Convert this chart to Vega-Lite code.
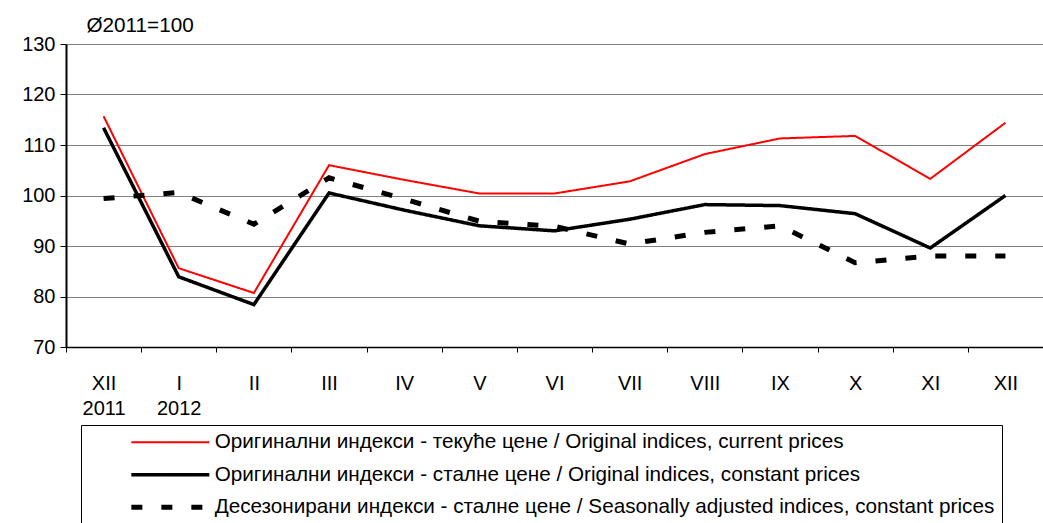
{
  "$schema": "https://vega.github.io/schema/vega-lite/v6.json",
  "width": 977,
  "height": 303,
  "autosize": "none",
  "padding": {"left": 66, "top": 44, "right": 0, "bottom": 176},
  "background": "white",
  "config": {
    "font": "Liberation Sans",
    "view": {"stroke": null},
    "legend": {
      "orient": "none",
      "legendX": 15,
      "legendY": 381,
      "padding": 7,
      "strokeColor": "black",
      "fillColor": "white",
      "symbolType": "M8.25,0H27.75",
      "symbolSize": 64,
      "labelFontSize": 20.7,
      "labelColor": "black",
      "labelLimit": 1200,
      "labelOffset": 106,
      "rowPadding": 10.5,
      "title": null
    }
  },
  "data": {
    "values": [
      {"m": "XII 2011", "s": "Оригинални индекси - текуће цене / Original indices, current prices", "v": 115.7},
      {"m": "I 2012", "s": "Оригинални индекси - текуће цене / Original indices, current prices", "v": 85.6},
      {"m": "II", "s": "Оригинални индекси - текуће цене / Original indices, current prices", "v": 80.7},
      {"m": "III", "s": "Оригинални индекси - текуће цене / Original indices, current prices", "v": 106.0},
      {"m": "IV", "s": "Оригинални индекси - текуће цене / Original indices, current prices", "v": 103.1},
      {"m": "V", "s": "Оригинални индекси - текуће цене / Original indices, current prices", "v": 100.4},
      {"m": "VI", "s": "Оригинални индекси - текуће цене / Original indices, current prices", "v": 100.4},
      {"m": "VII", "s": "Оригинални индекси - текуће цене / Original indices, current prices", "v": 102.8},
      {"m": "VIII", "s": "Оригинални индекси - текуће цене / Original indices, current prices", "v": 108.2},
      {"m": "IX", "s": "Оригинални индекси - текуће цене / Original indices, current prices", "v": 111.3},
      {"m": "X", "s": "Оригинални индекси - текуће цене / Original indices, current prices", "v": 111.8},
      {"m": "XI", "s": "Оригинални индекси - текуће цене / Original indices, current prices", "v": 103.3},
      {"m": "XII", "s": "Оригинални индекси - текуће цене / Original indices, current prices", "v": 114.4},
      {"m": "XII 2011", "s": "Оригинални индекси - сталне цене / Original indices, constant prices", "v": 113.4},
      {"m": "I 2012", "s": "Оригинални индекси - сталне цене / Original indices, constant prices", "v": 83.9},
      {"m": "II", "s": "Оригинални индекси - сталне цене / Original indices, constant prices", "v": 78.4},
      {"m": "III", "s": "Оригинални индекси - сталне цене / Original indices, constant prices", "v": 100.5},
      {"m": "IV", "s": "Оригинални индекси - сталне цене / Original indices, constant prices", "v": 97.1},
      {"m": "V", "s": "Оригинални индекси - сталне цене / Original indices, constant prices", "v": 94.0},
      {"m": "VI", "s": "Оригинални индекси - сталне цене / Original indices, constant prices", "v": 93.0},
      {"m": "VII", "s": "Оригинални индекси - сталне цене / Original indices, constant prices", "v": 95.3},
      {"m": "VIII", "s": "Оригинални индекси - сталне цене / Original indices, constant prices", "v": 98.2},
      {"m": "IX", "s": "Оригинални индекси - сталне цене / Original indices, constant prices", "v": 98.0},
      {"m": "X", "s": "Оригинални индекси - сталне цене / Original indices, constant prices", "v": 96.4},
      {"m": "XI", "s": "Оригинални индекси - сталне цене / Original indices, constant prices", "v": 89.6},
      {"m": "XII", "s": "Оригинални индекси - сталне цене / Original indices, constant prices", "v": 100.0},
      {"m": "XII 2011", "s": "Десезонирани индекси - сталне цене / Seasonally adjusted indices, constant prices", "v": 99.4},
      {"m": "I 2012", "s": "Десезонирани индекси - сталне цене / Seasonally adjusted indices, constant prices", "v": 100.6},
      {"m": "II", "s": "Десезонирани индекси - сталне цене / Seasonally adjusted indices, constant prices", "v": 94.3},
      {"m": "III", "s": "Десезонирани индекси - сталне цене / Seasonally adjusted indices, constant prices", "v": 103.5},
      {"m": "IV", "s": "Десезонирани индекси - сталне цене / Seasonally adjusted indices, constant prices", "v": 99.3},
      {"m": "V", "s": "Десезонирани индекси - сталне цене / Seasonally adjusted indices, constant prices", "v": 94.9},
      {"m": "VI", "s": "Десезонирани индекси - сталне цене / Seasonally adjusted indices, constant prices", "v": 93.9},
      {"m": "VII", "s": "Десезонирани индекси - сталне цене / Seasonally adjusted indices, constant prices", "v": 90.4},
      {"m": "VIII", "s": "Десезонирани индекси - сталне цене / Seasonally adjusted indices, constant prices", "v": 92.7},
      {"m": "IX", "s": "Десезонирани индекси - сталне цене / Seasonally adjusted indices, constant prices", "v": 94.0},
      {"m": "X", "s": "Десезонирани индекси - сталне цене / Seasonally adjusted indices, constant prices", "v": 86.7},
      {"m": "XI", "s": "Десезонирани индекси - сталне цене / Seasonally adjusted indices, constant prices", "v": 88.0},
      {"m": "XII", "s": "Десезонирани индекси - сталне цене / Seasonally adjusted indices, constant prices", "v": 88.0}
    ]
  },
  "mark": {"type": "line", "strokeCap": "butt", "strokeJoin": "miter"},
  "encoding": {
    "x": {
      "field": "m",
      "type": "ordinal",
      "sort": ["XII 2011", "I 2012", "II", "III", "IV", "V", "VI", "VII", "VIII", "IX", "X", "XI", "XII"],
      "bandPosition": 0.5,
      "scale": {"type": "band", "paddingInner": 0, "paddingOuter": 0},
      "axis": {
        "title": null,
        "labelAngle": 0,
        "labelExpr": "isValid(datum.value) ? split(datum.value, ' ') : ''",
        "labelFontSize": 20,
        "labelColor": "black",
        "labelLineHeight": 25,
        "labelPadding": 21,
        "tickBand": "extent",
        "tickSize": 5,
        "tickColor": "black",
        "domainColor": "black",
        "domainWidth": 1.5,
        "grid": false
      }
    },
    "y": {
      "field": "v",
      "type": "quantitative",
      "scale": {"domain": [70, 130], "nice": false, "zero": false},
      "axis": {
        "values": [70, 80, 90, 100, 110, 120, 130],
        "title": "Ø2011=100",
        "titleAngle": 0,
        "titleX": 20,
        "titleY": -19,
        "titleAlign": "left",
        "titleBaseline": "middle",
        "titleFontSize": 20.7,
        "titleFontWeight": "normal",
        "titleColor": "black",
        "labelFontSize": 20,
        "labelColor": "black",
        "labelPadding": 5,
        "tickSize": 6,
        "tickColor": "black",
        "domainColor": "black",
        "domainWidth": 2,
        "grid": true,
        "gridColor": "#808080",
        "gridWidth": 1
      }
    },
    "color": {
      "field": "s",
      "type": "nominal",
      "sort": null,
      "scale": {
        "domain": [
          "Оригинални индекси - текуће цене / Original indices, current prices",
          "Оригинални индекси - сталне цене / Original indices, constant prices",
          "Десезонирани индекси - сталне цене / Seasonally adjusted indices, constant prices"
        ],
        "range": ["#FF0000", "#000000", "#000000"]
      }
    },
    "strokeWidth": {
      "field": "s",
      "type": "nominal",
      "sort": null,
      "scale": {
        "domain": [
          "Оригинални индекси - текуће цене / Original indices, current prices",
          "Оригинални индекси - сталне цене / Original indices, constant prices",
          "Десезонирани индекси - сталне цене / Seasonally adjusted indices, constant prices"
        ],
        "range": [2, 5, 5]
      }
    },
    "strokeDash": {
      "field": "s",
      "type": "nominal",
      "sort": null,
      "scale": {
        "domain": [
          "Оригинални индекси - текуће цене / Original indices, current prices",
          "Оригинални индекси - сталне цене / Original indices, constant prices",
          "Десезонирани индекси - сталне цене / Seasonally adjusted indices, constant prices"
        ],
        "range": [[1, 0], [1, 0], [11, 19]]
      }
    }
  }
}
